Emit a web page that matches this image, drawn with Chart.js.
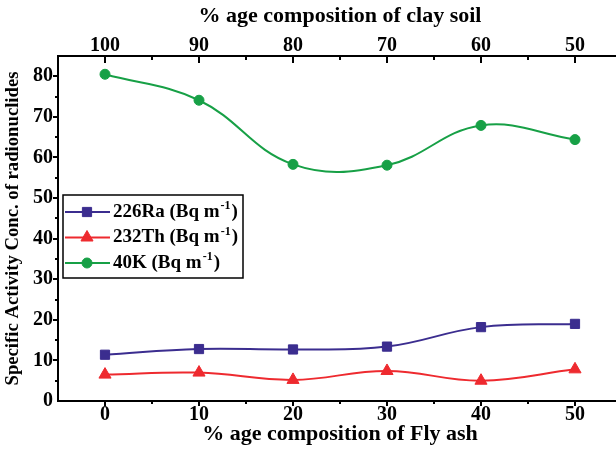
<!DOCTYPE html>
<html>
<head>
    <title>Radionuclides vs Fly ash</title>
    <script src="https://cdn.jsdelivr.net/npm/chart.js"></script>
    <style>
    body { margin: 0; background: #fff; }
    #wrap { width: 616px; height: 449px; overflow: hidden; }
  </style>
</head>
<body>
    <div id="wrap"><canvas id="activityChart" width="630" height="449"></canvas></div>
    <script>
      // values
      var flyAsh = [0, 10, 20, 30, 40, 50];
      var claySoil = [100, 90, 80, 70, 60, 50];
      var ra226 = [11.4, 12.8, 12.7, 13.4, 18.2, 19.0];
      var th232 = [6.5, 7.0, 5.2, 7.4, 5.0, 7.8];
      var k40 = [80.5, 74.1, 58.3, 58.1, 67.9, 64.4];
      var yTicks = [0, 10, 20, 30, 40, 50, 60, 70, 80];

      var serif = 'Liberation Serif';
      var colRa = '#3b2d8f', colTh = '#ee2a2f', colK = '#17a046';

      function pts(vals) {
          return flyAsh.map(function(x, i) { return { x: x, y: vals[i] }; });
      }
      function fixTicks(list) {
          return function(s) { s.ticks = list.map(function(v) { return { value: v }; }); };
      }

      var legendItems = [
          { name: '226Ra (Bq m', color: colRa, style: 'rect', r: 6.5 },
          { name: '232Th (Bq m', color: colTh, style: 'triangle', r: 7 },
          { name: '40K (Bq m', color: colK, style: 'circle', r: 5 }
      ];

      // minor/major tick marks + boxed legend
      var extras = {
          id: 'extras',
          afterDraw: function(chart) {
              var ctx = chart.ctx, a = chart.chartArea;
              var xs = chart.scales.x, ys = chart.scales.y;
              ctx.save();
              ctx.strokeStyle = '#000';
              ctx.lineWidth = 2;
              ctx.beginPath();
              for (var v = xs.min + 5; v < xs.max; v += 5) {
                  var px = Math.round(xs.getPixelForValue(v));
                  var major = v % 10 === 0;
                  ctx.moveTo(px, a.bottom); ctx.lineTo(px, a.bottom + (major ? 5 : 3));
                  ctx.moveTo(px, a.top); ctx.lineTo(px, a.top + (major ? 7 : 4));
              }
              for (var w = 5; w < ys.max; w += 5) {
                  var py = Math.round(ys.getPixelForValue(w));
                  ctx.moveTo(a.left, py); ctx.lineTo(a.left - (w % 10 === 0 ? 5 : 3), py);
              }
              ctx.stroke();

              // legend
              var bx = 63, by = 195, bw = 180, bh = 83;
              ctx.fillStyle = '#fff';
              ctx.fillRect(bx, by, bw, bh);
              ctx.lineWidth = 1.5;
              ctx.strokeRect(bx, by, bw, bh);
              legendItems.forEach(function(it, i) {
                  var cy = by + 17 + i * 25.5;
                  ctx.strokeStyle = it.color;
                  ctx.fillStyle = it.color;
                  ctx.lineWidth = 2;
                  ctx.beginPath();
                  ctx.moveTo(bx + 2, cy); ctx.lineTo(bx + 47, cy);
                  ctx.stroke();
                  ctx.lineWidth = 1;
                  Chart.helpers.drawPoint(ctx, { pointStyle: it.style, radius: it.r, borderWidth: 1, rotation: 0 }, bx + 24, cy);
                  ctx.fillStyle = '#000';
                  ctx.textBaseline = 'middle';
                  ctx.textAlign = 'left';
                  ctx.font = 'bold 19px "' + serif + '"';
                  var tx = bx + 50;
                  ctx.fillText(it.name, tx, cy);
                  tx += ctx.measureText(it.name).width + 1;
                  ctx.font = 'bold 12px "' + serif + '"';
                  ctx.fillText('-1', tx, cy - 6);
                  tx += ctx.measureText('-1').width + 1;
                  ctx.font = 'bold 19px "' + serif + '"';
                  ctx.fillText(')', tx, cy);
              });
              ctx.restore();
          }
      };

      function ds(label, vals, color, style, r) {
          return {
              label: label,
              data: pts(vals),
              borderColor: color,
              backgroundColor: color,
              borderWidth: 2,
              pointStyle: style,
              pointRadius: r,
              pointBorderWidth: 1,
              tension: 0.4
          };
      }

      var tickFont = { family: serif, size: 20, weight: 'bold', lineHeight: 1 };
      var titleFont = { family: serif, size: 22, weight: 'bold', lineHeight: 1.2 };

      var ctxAct = document.getElementById('activityChart').getContext('2d');
      var activityChart = new Chart(ctxAct, {
          type: 'line',
          data: {
              datasets: [
                  ds('226Ra', ra226, colRa, 'rect', 6.5),
                  ds('232Th', th232, colTh, 'triangle', 7),
                  ds('40K', k40, colK, 'circle', 5)
              ]
          },
          options: {
              responsive: false,
              animation: false,
              layout: { padding: { left: 0, right: 4, top: 0, bottom: 0 } },
              plugins: { legend: { display: false }, tooltip: { enabled: false } },
              scales: {
                  x: {
                      type: 'linear', position: 'bottom', min: -5, max: 55,
                      afterFit: function(s) { s.height = 48; },
                      afterBuildTicks: fixTicks(flyAsh),
                      grid: { display: false, drawTicks: false },
                      border: { display: true, color: '#000', width: 2 },
                      ticks: {
                          padding: 4, color: '#000', font: tickFont,
                          callback: function(v) { return String(v); }
                      },
                      title: {
                          display: true, text: '% age composition of Fly ash', color: '#000',
                          font: titleFont, padding: { top: 0, bottom: 1.5 }
                      }
                  },
                  x2: {
                      type: 'linear', axis: 'x', position: 'top', min: -5, max: 55,
                      afterFit: function(s) { s.height = 56; },
                      afterBuildTicks: fixTicks(flyAsh),
                      grid: { display: false, drawTicks: false },
                      border: { display: true, color: '#000', width: 2 },
                      ticks: {
                          padding: 0, color: '#000', font: tickFont,
                          callback: function(v) {
                              var i = flyAsh.indexOf(v);
                              return i < 0 ? '' : String(claySoil[i]);
                          }
                      },
                      title: {
                          display: true, text: '% age composition of clay soil', color: '#000',
                          font: titleFont, padding: { top: 3.5, bottom: 0 }
                      }
                  },
                  y: {
                      type: 'linear', position: 'left', min: 0, max: 85,
                      afterFit: function(s) { s.width = 58; },
                      afterBuildTicks: fixTicks(yTicks),
                      grid: { display: false, drawTicks: false },
                      border: { display: true, color: '#000', width: 2 },
                      ticks: { padding: 5, color: '#000', font: tickFont },
                      title: {
                          display: true, text: 'Specific Activity Conc. of radionuclides', color: '#000',
                          font: { family: serif, size: 18.7, weight: 'bold', lineHeight: 1.2 },
                          padding: { top: 2, bottom: 0 }
                      }
                  }
              }
          },
          plugins: [extras]
      });
    </script>
</body>
</html>
